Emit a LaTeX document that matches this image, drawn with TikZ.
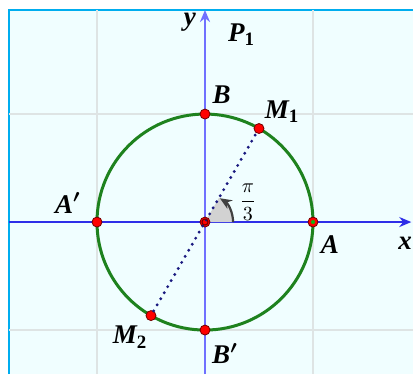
\documentclass[tikz,border=0pt]{standalone}
\usepackage{amsmath}
\usepackage{fontspec}
\setmainfont{Liberation Serif}
\usetikzlibrary{arrows.meta}
\definecolor{bgcol}{HTML}{F0FEFF}
\definecolor{gridcol}{HTML}{DEE4E4}
\definecolor{xaxcol}{HTML}{2E2EE8}
\definecolor{yaxcol}{HTML}{7070FF}
\definecolor{circcol}{HTML}{1E821E}
\definecolor{dotcol}{HTML}{1A1A80}
\begin{document}
\begin{tikzpicture}[x=54pt,y=54pt,>={Stealth[length=6pt,width=5pt]},
  lbl/.style={font=\fontsize{13.5}{15}\selectfont\bfseries\itshape,inner sep=0pt},
  pt/.style={circle,fill=red,draw=red!45!black,line width=0.4pt,inner sep=0pt,minimum size=5pt},
  gridline/.style={gridcol,line width=0.7pt},
  axis/.style={line width=1pt}]
\useasboundingbox (-1.898,-1.407) rectangle (1.926,2.056);
% background and grid
\fill[bgcol] (-1.815,-1.407) rectangle (1.926,1.963);
\draw[cyan,line width=1pt] (-1.815,-1.407) -- (-1.815,1.963) -- (1.926,1.963);
\foreach \g in {-1,1} {
  \draw[gridline] (\g,-1.407) -- (\g,1.963);
  \draw[gridline] (-1.815,\g) -- (1.926,\g);
}
% axes
\coordinate (xs) at (-1.815,0);
\coordinate (xe) at (1.91,0);
\coordinate (ys) at (0,-1.407);
\coordinate (ye) at (0,1.963);
\draw[axis,xaxcol,->] (xs) -- (xe);
\draw[axis,yaxcol,->] (ys) -- (ye);
\node[lbl] (xl) at (1.852,-0.194) {x};
\node[lbl] (yl) at (-0.139,1.852) {y};
\node[lbl] (P1) at (0.338,1.736) {P\textsubscript{\upshape 1}};
% angle
\fill[gray!35] (0,0) -- (0.26,0) arc (0:60:0.26) -- cycle;
\draw[black!75,line width=1.1pt,->] (0.26,0) arc (0:58:0.26);
\node (ang) at (0.398,0.185) {\fontsize{10}{11}\selectfont$\dfrac{\pi}{3}$};
% circle
\draw[circcol,line width=1.5pt] (0,0) circle (1);
% points
\node[pt] (O) at (0,0) {};
\node[pt] (A) at (1,0) {};
\node[pt] (Ap) at (-1,0) {};
\node[pt] (B) at (0,1) {};
\node[pt] (Bp) at (0,-1) {};
\node[pt] (M1) at (60:1) {};
\node[pt] (M2) at (240:1) {};
\draw[dotcol,line width=1.6pt,line cap=round,dash pattern=on 0pt off 3.5pt] (M2) -- (M1);
\fill[circcol!60!green] (A) circle (1pt);
\draw[red!45!black,line width=0.5pt] (O) circle (1.5pt);
% labels
\node[lbl] (lA) at (1.157,-0.213) {A};
\node[lbl] (lAp) at (-1.269,0.176) {A\/{\boldmath$'$}};
\node[lbl] (lB) at (0.153,1.181) {B};
\node[lbl] (lBp) at (0.185,-1.218) {B\/{\boldmath$'$}};
\node[lbl] (lM1) at (0.713,1.019) {M\textsubscript{\upshape 1}};
\node[lbl] (lM2) at (-0.694,-1.065) {M\textsubscript{\upshape 2}};
\end{tikzpicture}
\end{document}
